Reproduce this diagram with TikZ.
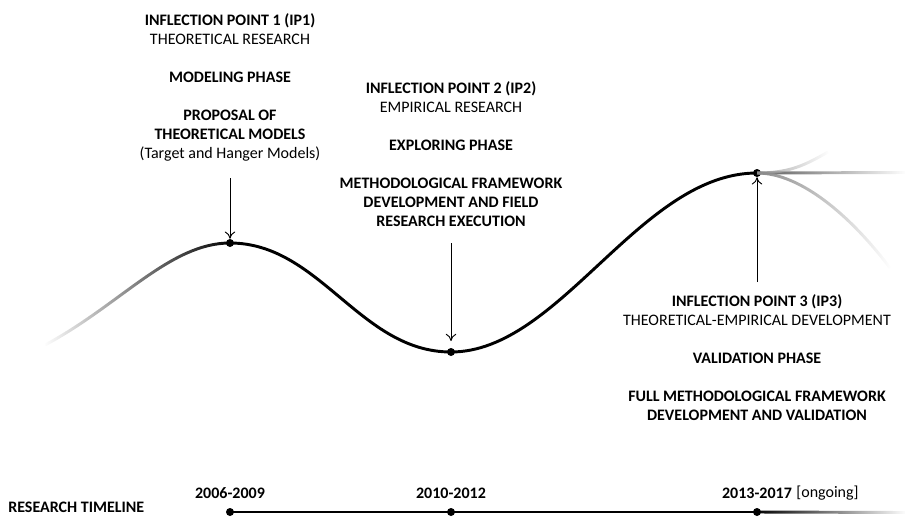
\documentclass[tikz,border=0pt]{standalone}
\usepackage{fontspec}
\setmainfont{Carlito}
\usepackage{tikz}
\usetikzlibrary{positioning,arrows.meta,fadings}

\begin{document}
\begin{tikzpicture}[
    x=0.75pt, y=-0.75pt,
    txt/.style={align=center, inner sep=0pt, font=\fontsize{12}{14.3}\selectfont},
    yearlabel/.style={inner sep=0pt, font=\fontsize{12}{14.3}\selectfont\bfseries},
    dot/.style={circle, fill=black, inner sep=0pt, minimum size=6pt},
    mainline/.style={line width=2.2pt},
    arrow/.style={-{To[length=5.5pt,width=8pt]}, line width=0.7pt}
]
\useasboundingbox (0,0) rectangle (923,517);

% ============== INFLECTION POINTS ON THE CURVE ==============
\node[dot] (ip1) at (230,243) {};
\node[dot] (ip2) at (451,352) {};
\node[dot] (ip3) at (757,173) {};

\coordinate (start) at (45,345);
\coordinate (flat)  at (905,172.5);
\coordinate (up)    at (828,152);
\coordinate (down)  at (890,268);

% faded beginning
\draw[mainline, path fading=west] (start) .. controls (120,305) and (170,243) .. (ip1.center);

% main curve
\draw[mainline] (ip1.center) .. controls (320,243) and (360,352) .. (ip2.center)
    .. controls (560,352) and (640,173) .. (ip3.center);

% open ending after IP3
\draw[mainline, black!65, path fading=east] (ip3.center) -- (flat);
\draw[mainline, black!35, path fading=east] (ip3.center) .. controls (790,173) and (805,165) .. (up);
\draw[mainline, black!45, path fading=east] (ip3.center) .. controls (800,173) and (850,215) .. (down);

% ============== TEXT BLOCKS ==============
\node[txt, anchor=north] (txt1) at (230,13) {
    \textbf{INFLECTION POINT 1 (IP1)}\\
    THEORETICAL RESEARCH\\[14.3pt]
    \textbf{MODELING PHASE}\\[14.3pt]
    \textbf{PROPOSAL OF}\\
    \textbf{THEORETICAL MODELS}\\
    (Target and Hanger Models)
};

\node[txt, anchor=north] (txt2) at (451,81) {
    \textbf{INFLECTION POINT 2 (IP2)}\\
    EMPIRICAL RESEARCH\\[14.3pt]
    \textbf{EXPLORING PHASE}\\[14.3pt]
    \textbf{METHODOLOGICAL FRAMEWORK}\\
    \textbf{DEVELOPMENT AND FIELD}\\
    \textbf{RESEARCH EXECUTION}
};

\node[txt, anchor=north] (txt3) at (757,294) {
    \textbf{INFLECTION POINT 3 (IP3)}\\
    THEORETICAL-EMPIRICAL DEVELOPMENT\\[14.3pt]
    \textbf{VALIDATION PHASE}\\[14.3pt]
    \textbf{FULL METHODOLOGICAL FRAMEWORK}\\
    \textbf{DEVELOPMENT AND VALIDATION}
};

% ============== ARROWS ==============
\coordinate (a1) at (230,178);
\coordinate (a2) at (451,243);
\coordinate (a3) at (757,282);

\draw[arrow] (a1) -- (ip1);
\draw[arrow, shorten >=5pt] (a2) -- (ip2);
\draw[arrow] (a3) -- (ip3);

% ============== RESEARCH TIMELINE ==============
\node[yearlabel, anchor=west] (timeline) at (8,507) {RESEARCH TIMELINE};

\node[dot] (t1) at (230,512) {};
\node[dot] (t2) at (451,512) {};
\node[dot] (t3) at (757,512) {};
\coordinate (tend) at (905,512.5);

\draw[mainline] (t1.center) -- (t2.center) -- (t3.center);
\draw[mainline, path fading=east] (t3.center) -- (tend);

\node[yearlabel] (y1) at (230,493) {2006-2009};
\node[yearlabel] (y2) at (451,493) {2010-2012};
\node[yearlabel] (y3) at (757,493) {2013-2017};
\node[txt, anchor=west] (ongoing) at ([xshift=3pt]y3.east) {[ongoing]};

\end{tikzpicture}
\end{document}
